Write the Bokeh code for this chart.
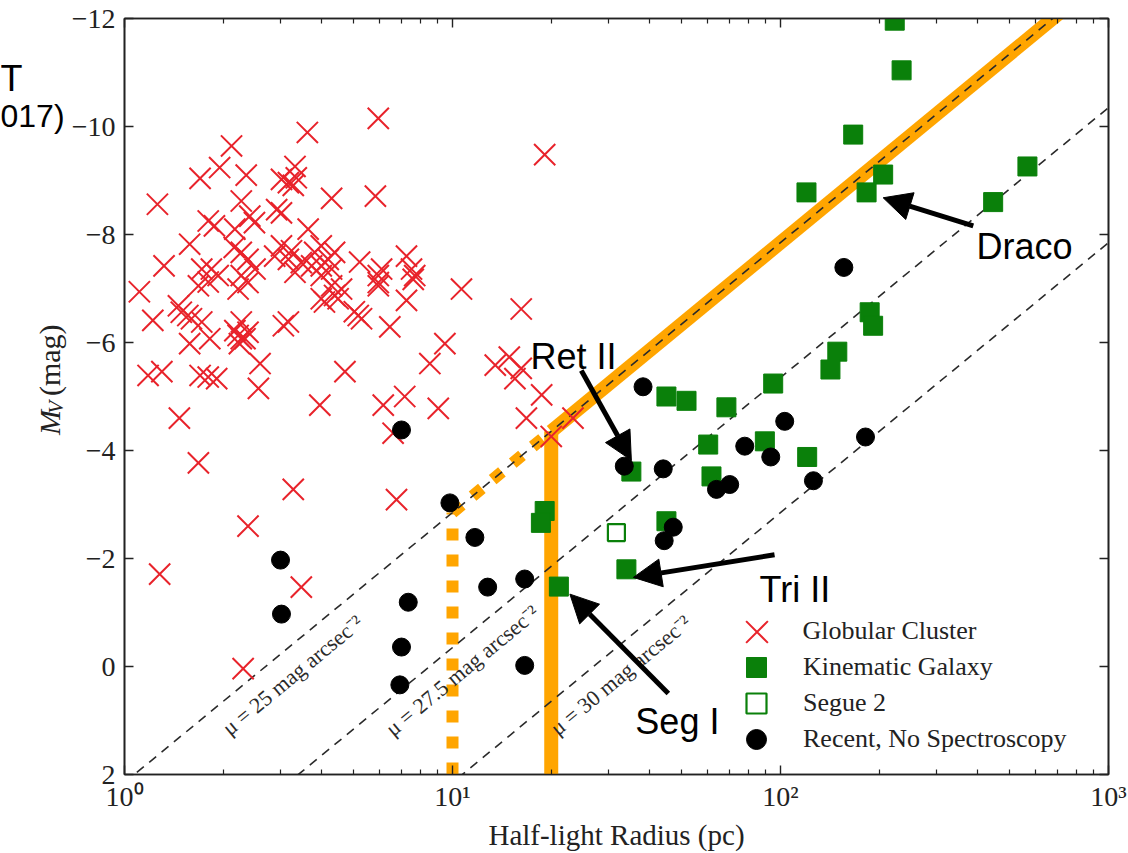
import numpy as np
from bokeh.plotting import figure
from bokeh.layouts import row
from bokeh.models import (Range1d, LogAxis, LinearAxis, FixedTicker, CustomJSTickFormatter,
                          Legend, LegendItem, Arrow, NormalHead)
from bokeh.core.properties import value
from bokeh.embed import file_html
from bokeh.resources import INLINE

# ---------------- data ----------------
# Globular clusters: half-light radius (pc), absolute magnitude M_V
gc_r = [5.94, 3.61, 2.12, 1.95, 1.70, 2.35, 3.31, 3.16, 3.01, 3.27,
        3.34, 4.28, 5.82, 1.26, 3.01, 2.91, 2.27, 2.41, 1.80, 1.88,
        2.49, 3.63, 2.17, 1.58, 1.32, 1.11, 2.16, 2.27, 2.38, 2.50,
        2.27, 2.38, 2.22, 1.84, 1.72, 1.80, 1.68, 1.93, 3.01, 3.23,
        3.16, 3.46, 3.31, 3.72, 2.87, 3.98, 3.80, 4.18, 4.37, 3.98,
        4.28, 3.98, 5.21, 5.94, 6.08, 5.94, 7.24, 7.67, 7.50, 7.59,
        10.65, 4.59, 4.37, 4.48, 4.28, 3.98, 4.07, 5.94, 7.24, 5.02,
        5.28, 5.16, 1.46, 1.49, 1.56, 1.72, 1.60, 1.22, 2.27, 2.17,
        2.27, 2.22, 2.33, 2.38, 2.24, 1.58, 1.82, 3.05, 3.16, 6.44,
        9.48, 8.53, 1.18, 1.30, 1.70, 1.80, 1.91, 2.59, 2.56, 4.70,
        3.94, 6.15, 7.15, 9.05, 1.47, 6.59, 1.68, 3.27, 6.75, 2.38,
        1.28, 3.46, 2.30, 16.2, 13.5, 14.9, 16.2, 15.5, 18.7, 16.8,
        20.0, 23.3, 19.1]
gc_M = [-10.15, -9.89, -9.64, -9.24, -9.04, -9.10, -9.26, -8.96, -9.02, -8.91,
        -9.05, -8.67, -8.71, -8.56, -8.40, -8.46, -8.62, -8.34, -8.25, -8.16,
        -8.22, -8.10, -8.10, -7.82, -7.42, -6.94, -7.76, -7.67, -7.54, -7.36,
        -7.24, -7.11, -6.99, -7.36, -7.36, -7.12, -7.05, -7.24, -7.79, -7.70,
        -7.54, -7.48, -7.30, -7.42, -7.60, -7.79, -7.67, -7.54, -7.67, -7.42,
        -7.36, -7.24, -7.49, -7.24, -7.36, -7.11, -7.60, -7.24, -7.36, -7.17,
        -6.99, -6.99, -6.87, -6.81, -7.05, -6.81, -6.75, -7.05, -6.78, -6.57,
        -6.44, -6.50, -6.68, -6.56, -6.50, -6.38, -6.44, -6.41, -6.38, -6.22,
        -6.07, -6.13, -6.07, -6.19, -5.98, -5.98, -6.07, -6.31, -6.38, -6.29,
        -5.98, -5.61, -5.39, -5.46, -5.39, -5.36, -5.33, -5.61, -5.15, -5.46,
        -4.84, -4.84, -5.00, -4.78, -4.60, -4.32, -3.77, -3.28, -3.09, -2.60,
        -1.71, -1.47, 0.04, -6.62, -5.58, -5.73, -5.52, -5.33, -5.03, -4.60,
        -4.26, -4.60, -9.48]

# Kinematic galaxies
kg_r = [223, 234, 166.6, 205.6, 183, 120, 566, 445, 187, 191.6,
        149, 142, 120.6, 95, 44.9, 51.7, 68.4, 60.2, 89.6, 61.6,
        35.1, 44.9, 19.1, 18.6, 33.9, 21.1]
kg_M = [-11.96, -11.04, -9.85, -9.11, -8.78, -8.78, -9.26, -8.60, -6.56, -6.31,
        -5.83, -5.50, -3.88, -5.24, -5.00, -4.92, -4.80, -4.11, -4.17, -3.52,
        -3.61, -2.69, -2.88, -2.66, -1.80, -1.48]

# Segue 2
seg2_r = [31.6]
seg2_M = [-2.48]

# Recent discoveries without spectroscopy
rc_r = [6.99, 9.82, 11.7, 2.99, 3.01, 7.33, 12.8, 6.99, 6.91, 16.6,
        16.6, 38.1, 33.4, 43.9, 103, 77.8, 93.4, 70.0, 63.8, 47.1,
        44.2, 126, 181.6, 156]
rc_M = [-4.38, -3.03, -2.39, -1.97, -0.97, -1.19, -1.47, -0.36, 0.34, -1.62,
        -0.02, -5.18, -3.71, -3.66, -4.54, -4.08, -3.88, -3.37, -3.28, -2.58,
        -2.33, -3.44, -4.25, -7.39]

# constant surface brightness lines: M = mu - mu_zero - 5 log10(r)
mu_levels = [25.0, 27.5, 30.0]
mu_labels = ["\u03bc = 25 mag arcsec\u207b\u00b2", "\u03bc = 27.5 mag arcsec\u207b\u00b2",
             "\u03bc = 30 mag arcsec\u207b\u00b2"]
mu_zero = 22.85
mu_limit = 25.0
r_faint_limit = 10.0
r_bright_limit = 20.0

x_ticks = [1, 10, 100, 1000]
y_ticks = [-12, -10, -8, -6, -4, -2, 0, 2]

legend_labels = ["Globular Cluster", "Kinematic Galaxy", "Segue 2", "Recent, No Spectroscopy"]
names = ["Ret II", "Draco", "Tri II", "Seg I"]


def mu_line(mu, r):
    return mu - mu_zero - 5.0 * np.log10(r)


# ---------------- styles ----------------
SERIF = "Liberation Serif"
SANS = "Liberation Sans"
RED = "#e8232b"
GREEN = "#0a800a"
ORANGE = "#FFA500"
INK = "#222222"

H = 853
LEFT_W = 68          # width of the side strip holding the y label
MAIN_W = 1128 - LEFT_W

# ---------------- side strip (y label, cropped slide text) ----------------
side = figure(width=LEFT_W, height=H, x_range=Range1d(0, LEFT_W), y_range=Range1d(H, 0),
              output_backend="svg", toolbar_location=None,
              x_axis_location=None, y_axis_location=None,
              min_border=0, min_border_left=0, min_border_right=0,
              min_border_top=0, min_border_bottom=0)
side.title.visible = False
side.xgrid.visible = False
side.ygrid.visible = False
side.outline_line_color = None
side.background_fill_color = "white"
side.border_fill_color = "white"

# y axis label "M_V (mag)", rotated
side.text(x=[49], y=[470], text=["M"], angle=np.pi / 2, text_align="left",
          text_baseline="alphabetic", text_font=value(SERIF), text_font_style="italic",
          text_font_size="30px", text_color=INK)
side.text(x=[55], y=[446], text=["V"], angle=np.pi / 2, text_align="left",
          text_baseline="alphabetic", text_font=value(SERIF), text_font_style="italic",
          text_font_size="21px", text_color=INK)
side.text(x=[49], y=[426], text=["(mag)"], angle=np.pi / 2, text_align="left",
          text_baseline="alphabetic", text_font=value(SERIF), text_font_size="30px",
          text_color=INK)
# fragments of slide text cut by the crop
side.text(x=[0], y=[68], text=["T"], text_align="left", text_baseline="alphabetic",
          text_font=value(SANS), text_font_size="36px", text_color="black")
side.text(x=[0], y=[110], text=["017)"], text_align="left", text_baseline="alphabetic",
          text_font=value(SANS), text_font_size="32px", text_color="black")

# ---------------- main plot ----------------
p = figure(width=MAIN_W, height=H, x_axis_type="log",
           x_range=Range1d(1, 1000), y_range=Range1d(2, -12),
           output_backend="svg", toolbar_location=None,
           min_border_left=123 - LEFT_W, min_border_right=20, min_border_top=18,
           min_border_bottom=75)
p.xgrid.visible = False
p.ygrid.visible = False
p.outline_line_color = INK
p.outline_line_width = 1.6
p.background_fill_color = "white"
p.border_fill_color = "white"

minor = [m * d for d in (1, 10, 100) for m in range(2, 10)]
xticker = FixedTicker(ticks=x_ticks, minor_ticks=minor)
yticker = FixedTicker(ticks=y_ticks, minor_ticks=[])
xfmt = CustomJSTickFormatter(code="""
const sup = {"0": "\u2070", "1": "\u00b9", "2": "\u00b2", "3": "\u00b3"};
const e = Math.round(Math.log10(tick));
return "10" + sup[String(e)];
""")
yfmt = CustomJSTickFormatter(code="return tick < 0 ? '\u2212' + Math.abs(tick) : String(tick);")
blank = CustomJSTickFormatter(code="return '';")


def style_axis(ax, labels=True):
    ax.major_tick_in = 9
    ax.major_tick_out = 0
    ax.minor_tick_in = 5
    ax.minor_tick_out = 0
    ax.axis_line_color = INK
    ax.axis_line_width = 1.6
    ax.major_tick_line_color = INK
    ax.minor_tick_line_color = INK
    ax.major_tick_line_width = 1.4
    ax.minor_tick_line_width = 1.2
    ax.major_label_text_font = SERIF
    ax.major_label_text_font_size = "28px" if labels else "1px"
    ax.major_label_text_color = INK
    ax.major_label_standoff = 6 if labels else 0


xa = p.xaxis[0]
xa.ticker = xticker
xa.formatter = xfmt
style_axis(xa)
xa.axis_label = "Half-light Radius (pc)"
xa.axis_label_text_font = SERIF
xa.axis_label_text_font_size = "29px"
xa.axis_label_text_font_style = "normal"
xa.axis_label_text_color = INK
xa.axis_label_standoff = 4

ya = p.yaxis[0]
ya.ticker = yticker
ya.formatter = yfmt
style_axis(ya)
ya.major_label_standoff = 9

top = LogAxis(ticker=xticker, formatter=blank)
style_axis(top, labels=False)
p.add_layout(top, "above")
right = LinearAxis(ticker=yticker, formatter=blank)
style_axis(right, labels=False)
p.add_layout(right, "right")

# ---------------- orange selection limits ----------------
r_span = [r_bright_limit, 1000.0]
p.line(r_span, [mu_line(mu_limit, r) for r in r_span], line_color=ORANGE, line_width=14)
p.line([r_bright_limit, r_bright_limit], [2.0, mu_line(mu_limit, r_bright_limit)],
       line_color=ORANGE, line_width=14)
p.line([r_faint_limit, r_bright_limit],
       [mu_line(mu_limit, r_faint_limit), mu_line(mu_limit, r_bright_limit)],
       line_color=ORANGE, line_width=12, line_dash="12 14")
p.line([r_faint_limit, r_faint_limit], [2.0, mu_line(mu_limit, r_faint_limit)],
       line_color=ORANGE, line_width=12, line_dash="12 14")

# ---------------- surface brightness lines ----------------
r_full = [1.0, 1000.0]
for mu in mu_levels:
    p.line(r_full, [mu_line(mu, r) for r in r_full], line_color="#2a2a2a",
           line_width=1.6, line_dash="9 7")

lab_r = [3.25, 10.7, 32.5]
lab_M = [mu_line(mu, r) + 0.57 for mu, r in zip(mu_levels, lab_r)]
p.text(x=lab_r, y=lab_M, text=mu_labels, angle=0.691, text_align="center",
       text_baseline="middle", text_font=value(SERIF), text_font_size="22px",
       text_color="#2a2a2a")

# ---------------- points ----------------
gc = p.scatter(gc_r, gc_M, marker="x", size=30, line_color=RED, line_width=2)
kg = p.scatter(kg_r, kg_M, marker="square", size=19, fill_color=GREEN, line_color=GREEN)
s2 = p.scatter(seg2_r, seg2_M, marker="square", size=17, fill_color="white",
               line_color=GREEN, line_width=2.2)
rc = p.scatter(rc_r, rc_M, marker="circle", size=18, fill_color="black", line_color="black")

# one legend per row so each marker gets its own glyph box
FRAME_B = 778
legend_rows = [(gc, 635, 77), (kg, 671, 50), (s2, 707, 50), (rc, 743, 50)]
for label, (rend, yc, box) in zip(legend_labels, legend_rows):
    gx = 755  # glyph centre, page pixels
    lg = Legend(items=[LegendItem(label=label, renderers=[rend])],
                location=(gx - box / 2 - 123, FRAME_B - (yc + box / 2)),
                border_line_color=None, background_fill_alpha=0,
                label_text_font=SERIF, label_text_font_size="26px",
                label_text_color=INK, glyph_width=box, glyph_height=box,
                label_height=box, spacing=0, padding=0, margin=0,
                label_standoff=int(round(802 - (gx + box / 2))))
    p.add_layout(lg)

# ---------------- named objects with arrows ----------------
name_r = [17.3, 396, 86.3, 36.1]
name_M = [-5.74, -7.78, -1.43, 1.02]
arrow_from = [(24.7, -5.48), (387, -8.16), (95.9, -2.07), (45.5, 0.50)]
arrow_to = [(35.1, -3.82), (205.6, -8.68), (35.6, -1.65), (22.8, -1.34)]
p.text(x=name_r, y=name_M, text=names, text_align="left", text_baseline="alphabetic",
       text_font=value(SANS), text_font_size="36px", text_color="black")
for (x0, y0), (x1, y1) in zip(arrow_from, arrow_to):
    p.add_layout(Arrow(end=NormalHead(size=28, fill_color="black", line_color="black"),
                       x_start=x0, y_start=y0, x_end=x1, y_end=y1,
                       line_width=5, line_color="black"))

layout = row(side, p)
open("out.html", "w").write(file_html(layout, INLINE))
